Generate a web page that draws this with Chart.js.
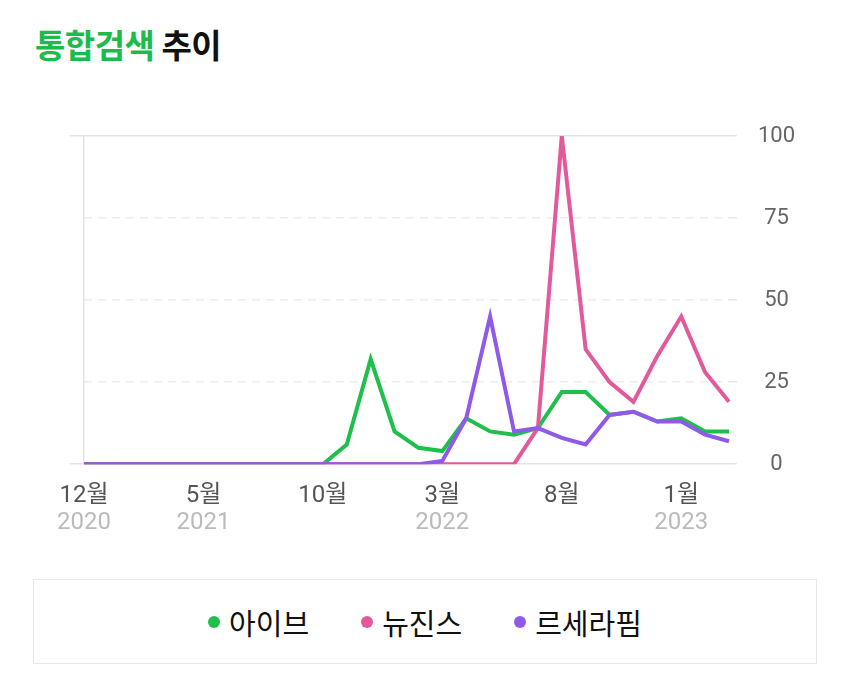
<!DOCTYPE html>
<html>
<head>
<meta charset="utf-8">
<script src="https://cdn.jsdelivr.net/npm/chart.js@4"></script>
<style>
  body { margin: 0; background: #fff; font-family: "Noto Sans CJK KR", sans-serif; }
  #page { position: relative; width: 850px; height: 675px; overflow: hidden; }
  #title { position: absolute; left: 35px; top: 20px; font-size: 33px; font-weight: 700; color: #111; letter-spacing: -0.5px; }
  #title span { color: #1dbb4c; }
  #wrap { position: absolute; left: 0; top: 100px; width: 850px; height: 470px; }
  #legend { position: absolute; left: 33px; top: 579px; width: 782px; height: 83px; border: 1px solid #e8e8e8;
            display: flex; justify-content: center; align-items: center; }
  .item { display: flex; align-items: center; font-size: 29px; color: #111; margin: 0 26px; }
  .dot { width: 12px; height: 12px; border-radius: 50%; margin-right: 9px; }
</style>
</head>
<body>
<div id="page">
  <div id="title"><span>통합검색</span> 추이</div>
  <div id="wrap"><canvas id="mycanvas"></canvas></div>
  <div id="legend"></div>
</div>
<script>
// Dec 2020 .. Mar 2023, monthly
var months = ['12월','1월','2월','3월','4월','5월','6월','7월','8월','9월','10월','11월',
              '12월','1월','2월','3월','4월','5월','6월','7월','8월','9월','10월','11월',
              '12월','1월','2월','3월'];
var years = ['2020','2021','','','','2021','','','','','','',
             '','2022','','2022','','','','','','','','',
             '','2023','',''];
var tickEvery = 5;

var ive      = [0,0,0,0,0,0,0,0,0,0,0,6,32,10,5,4,14,10,9,11,22,22,15,16,13,14,10,10];
var newjeans = [0,0,0,0,0,0,0,0,0,0,0,0,0,0,0,0,0,0,0,11,100,35,25,19,33,45,28,19];
var lesserafim = [0,0,0,0,0,0,0,0,0,0,0,0,0,0,0,1,14,45,10,11,8,6,15,16,13,13,9,7];

var names = ['아이브','뉴진스','르세라핌'];
var colors = ['#1ebf4b','#e25a9c','#905ae8'];
var yTicks = [0, 25, 50, 75, 100];

var labels = months.map(function(m, i){ return m + ' ' + years[i]; });

var ctx = document.getElementById('mycanvas');
var chart = new Chart(ctx, {
  type: 'line',
  data: {
    labels: labels,
    datasets: [ive, newjeans, lesserafim].map(function(d, i){
      return { label: names[i], data: d, borderColor: colors[i], backgroundColor: colors[i],
               borderWidth: 4, pointRadius: 0, tension: 0, xAxisID: 'x', yAxisID: 'y' };
    }).reverse()
  },
  options: {
    responsive: true,
    maintainAspectRatio: false,
    animation: false,
    layout: { padding: { left: 70, right: 0, top: 36, bottom: 33 } },
    plugins: { legend: { display: false }, tooltip: { enabled: false } },
    scales: {
      x: {
        position: 'bottom',
        afterFit: function(s){ s.height = 44; },
        grid: { display: false, drawTicks: false },
        border: { display: false },
        ticks: {
          autoSkip: false, maxRotation: 0, padding: 17,
          color: '#555', font: { family: 'Roboto, "Noto Sans CJK KR"', size: 24 },
          callback: function(v, i){ return i % tickEvery === 0 ? months[i] : null; }
        }
      },
      x2: {
        position: 'bottom',
        grid: { display: false, drawTicks: false },
        border: { display: false },
        ticks: {
          autoSkip: false, maxRotation: 0, padding: 0,
          color: '#bbb', font: { family: 'Roboto', size: 24 },
          callback: function(v, i){ return i % tickEvery === 0 ? years[i] : null; }
        }
      },
      y: {
        position: 'right',
        min: 0, max: 100,
        afterBuildTicks: function(s){ s.ticks = yTicks.map(function(v){ return { value: v }; }); },
        afterFit: function(s){ s.width = 121; },
        border: { display: false, dash: [8, 6] },
        grid: {
          color: function(c){ return (c.tick && (c.tick.value === 0 || c.tick.value === 100)) ? 'rgba(0,0,0,0)' : '#ececec'; },
          lineWidth: 1.5,
          tickLength: 8, tickColor: '#e6e6e6', tickBorderDash: []
        },
        ticks: { padding: 21, crossAlign: 'center', color: '#666', font: { family: 'Roboto', size: 22 } }
      },
      yl: {
        position: 'left',
        min: 0, max: 100,
        afterBuildTicks: function(s){ s.ticks = [{ value: 0 }, { value: 100 }]; },
        afterFit: function(s){ s.width = 14; },
        border: { display: true, color: '#e3e3e3', width: 1.5 },
        grid: { color: '#e3e3e3', lineWidth: 1.5, tickLength: 14 },
        ticks: { display: false }
      }
    }
  }
});

// legend box
var lg = document.getElementById('legend');
names.forEach(function(n, i){
  var it = document.createElement('div');
  it.className = 'item';
  it.innerHTML = '<span class="dot" style="background:' + colors[i] + '"></span>' + n;
  lg.appendChild(it);
});
</script>
</body>
</html>
